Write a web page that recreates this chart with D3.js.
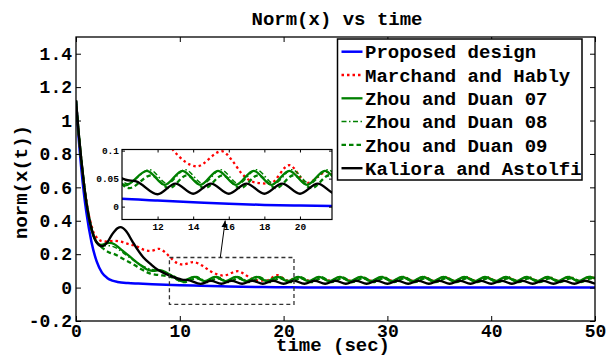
<!DOCTYPE html>
<html>
<head>
    <meta charset="utf-8">
    <title>Norm(x) vs time</title>
    <script src="https://d3js.org/d3.v7.min.js"></script>
    <style>
        body {
            margin: 0;
            background-color: #fff;
        }
        svg {
            display: block;
            font-family: "Liberation Mono", "Courier New", monospace;
            font-weight: bold;
        }
        .axis path {
            stroke: none;
        }
        .axis line {
            stroke: #000;
            stroke-width: 1;
        }
        .axis text {
            fill: #000;
            font-family: "Liberation Mono", "Courier New", monospace;
            font-weight: bold;
        }
    </style>
</head>
<body>
    <svg id="chart" width="607" height="356"></svg>
    <script>
        // values: [time, norm]
        const proposed = [[0,1.12],[0.25,0.9],[0.5,0.72],[0.75,0.57],[1,0.45],[1.5,0.27],[2,0.155],[2.5,0.09],
            [3,0.058],[3.5,0.042],[4,0.034],[5,0.027],[6,0.024],[8,0.019],[10,0.014],[12,0.011],[14,0.008],
            [16,0.005],[18,0.003],[20,0.002],[22,0.001],[26,0],[50,0]];

        const marchand = [[0,1.12],[0.25,0.93],[0.5,0.77],[0.75,0.63],[1,0.52],[1.25,0.43],[1.5,0.37],[1.75,0.32],
            [2,0.3],[2.4,0.28],[3,0.275],[3.6,0.28],[4.3,0.275],[5,0.262],[5.9,0.245],[6.6,0.225],[7.2,0.22],
            [8,0.232],[8.6,0.21],[9.1,0.18],[9.7,0.148],[10.3,0.138],[11.3,0.153],[12.2,0.13],[12.9,0.1],
            [14.2,0.072],[15.6,0.099],[16.2,0.082],[16.7,0.06],[17.5,0.043],[18.3,0.041],[19.4,0.074],
            [20.4,0.042],[21.5,0.062],[22.5,0.041],[23.5,0.062],[24.5,0.041],[25.5,0.062],[26.5,0.041],
            [27.5,0.062],[28.5,0.041],[29.5,0.062],[30.5,0.041],[31.5,0.062],[32.5,0.041],[33.5,0.062],
            [34.5,0.041],[35.5,0.062],[36.5,0.041],[37.5,0.062],[38.5,0.041],[39.5,0.062],[40.5,0.041],
            [41.5,0.062],[42.5,0.041],[43.5,0.062],[44.5,0.041],[45.5,0.062],[46.5,0.041],[47.5,0.062],
            [48.5,0.041],[49.5,0.062],[50,0.055]];

        const zhou07 = [[0,1.12],[0.25,0.93],[0.5,0.77],[0.75,0.63],[1,0.51],[1.25,0.42],[1.5,0.35],[1.75,0.3],
            [2,0.27],[2.4,0.255],[3.2,0.268],[3.7,0.26],[4.3,0.23],[5.2,0.185],[6.2,0.135],[7.1,0.103],
            [7.6,0.1],[8.1,0.105],[8.7,0.09],[9.3,0.068],[10.2,0.038],[11.4,0.064],[12.4,0.039],[13.4,0.064],
            [14.4,0.039],[15.4,0.064],[16.4,0.039],[17.4,0.064],[18.4,0.039],[19.4,0.064],[20.4,0.039],
            [21.4,0.064],[22.4,0.039],[23.4,0.064],[24.4,0.039],[25.4,0.064],[26.4,0.039],[27.4,0.064],
            [28.4,0.039],[29.4,0.064],[30.4,0.039],[31.4,0.064],[32.4,0.039],[33.4,0.064],[34.4,0.039],
            [35.4,0.064],[36.4,0.039],[37.4,0.064],[38.4,0.039],[39.4,0.064],[40.4,0.039],[41.4,0.064],
            [42.4,0.039],[43.4,0.064],[44.4,0.039],[45.4,0.064],[46.4,0.039],[47.4,0.064],[48.4,0.039],
            [49.4,0.064],[50,0.055]];

        const zhou08 = [[0,1.12],[0.25,0.93],[0.5,0.77],[0.75,0.63],[1,0.51],[1.25,0.42],[1.5,0.35],[1.75,0.3],
            [2,0.27],[2.5,0.25],[3.2,0.25],[3.8,0.24],[4.6,0.205],[5.5,0.165],[6.4,0.13],[7.2,0.11],[8.1,0.1],
            [8.8,0.085],[9.4,0.07],[10.3,0.041],[11.55,0.066],[12.55,0.041],[13.55,0.066],[14.55,0.041],
            [15.55,0.066],[16.55,0.041],[17.55,0.066],[18.55,0.041],[19.55,0.066],[20.55,0.041],[21.55,0.066],
            [22.55,0.041],[23.55,0.066],[24.55,0.041],[25.55,0.066],[26.55,0.041],[27.55,0.066],[28.55,0.041],
            [29.55,0.066],[30.55,0.041],[31.55,0.066],[32.55,0.041],[33.55,0.066],[34.55,0.041],[35.55,0.066],
            [36.55,0.041],[37.55,0.066],[38.55,0.041],[39.55,0.066],[40.55,0.041],[41.55,0.066],[42.55,0.041],
            [43.55,0.066],[44.55,0.041],[45.55,0.066],[46.55,0.041],[47.55,0.066],[48.55,0.041],[49.55,0.066],
            [50,0.06]];

        const zhou09 = [[0,1.12],[0.25,0.93],[0.5,0.77],[0.75,0.63],[1,0.51],[1.25,0.42],[1.5,0.35],[1.75,0.3],
            [2,0.27],[2.6,0.235],[3.2,0.21],[3.7,0.2],[4.6,0.17],[5.5,0.14],[6.3,0.11],[7.1,0.085],[8,0.075],
            [8.7,0.07],[9.4,0.058],[10.4,0.033],[11.65,0.056],[12.65,0.033],[13.65,0.056],[14.65,0.033],
            [15.65,0.056],[16.65,0.033],[17.65,0.056],[18.65,0.033],[19.65,0.056],[20.65,0.033],[21.65,0.056],
            [22.65,0.033],[23.65,0.056],[24.65,0.033],[25.65,0.056],[26.65,0.033],[27.65,0.056],[28.65,0.033],
            [29.65,0.056],[30.65,0.033],[31.65,0.056],[32.65,0.033],[33.65,0.056],[34.65,0.033],[35.65,0.056],
            [36.65,0.033],[37.65,0.056],[38.65,0.033],[39.65,0.056],[40.65,0.033],[41.65,0.056],[42.65,0.033],
            [43.65,0.056],[44.65,0.033],[45.65,0.056],[46.65,0.033],[47.65,0.056],[48.65,0.033],[49.65,0.056],
            [50,0.05]];

        const kaliora = [[0,1.12],[0.25,0.93],[0.5,0.77],[0.75,0.63],[1,0.51],[1.25,0.42],[1.5,0.35],[1.75,0.3],
            [2,0.27],[2.5,0.248],[3,0.27],[3.5,0.32],[4,0.355],[4.3,0.362],[4.8,0.34],[5.4,0.28],[5.9,0.23],
            [6.5,0.18],[7.2,0.14],[7.8,0.11],[8.4,0.09],[9.1,0.07],[9.7,0.056],[10.2,0.048],[10.8,0.045],
            [12,0.022],[13,0.041],[14,0.023],[15,0.041],[16,0.023],[17,0.041],[18,0.023],[19,0.041],[20,0.023],
            [21,0.041],[22,0.023],[23,0.041],[24,0.023],[25,0.041],[26,0.023],[27,0.041],[28,0.023],[29,0.041],
            [30,0.023],[31,0.041],[32,0.023],[33,0.041],[34,0.023],[35,0.041],[36,0.023],[37,0.041],[38,0.023],
            [39,0.041],[40,0.023],[41,0.041],[42,0.023],[43,0.041],[44,0.023],[45,0.041],[46,0.023],[47,0.041],
            [48,0.023],[49,0.041],[50,0.023]];

        const seriesNames = ['Proposed design', 'Marchand and Hably', 'Zhou and Duan 07',
            'Zhou and Duan 08', 'Zhou and Duan 09', 'Kaliora and Astolfi'];
        const xTicks = [0, 10, 20, 30, 40, 50];
        const yTicks = [-0.2, 0, 0.2, 0.4, 0.6, 0.8, 1, 1.2, 1.4];
        const insetXTicks = [12, 14, 16, 18, 20];
        const insetYTicks = [0, 0.05, 0.1];
        const zoomBox = { t0: 9, t1: 21, v0: -0.1, v1: 0.18 };

        const seriesData = [proposed, marchand, zhou07, zhou08, zhou09, kaliora];
        const styles = [
            { color: '#0000ff', width: 2.5, dash: null },
            { color: '#ff0000', width: 2.3, dash: '2.5,3' },
            { color: '#008000', width: 2.3, dash: null },
            { color: '#008000', width: 1.5, dash: '5,2.5,1.5,2.5' },
            { color: '#008000', width: 2.3, dash: '4.5,3' },
            { color: '#000000', width: 2.4, dash: null }
        ];

        // plain hyphen for negatives, like the original figure
        const plainFormat = d => String(d);

        function drawChart() {
            const svg = d3.select('#chart');
            const plot = { left: 76, right: 595, top: 37, bottom: 321 };
            const inset = { left: 122, right: 332, top: 149.5, bottom: 219.5 };

            const x = d3.scaleLinear().domain([0, 50]).range([plot.left, plot.right]);
            const y = d3.scaleLinear().domain([-0.2, 1.5]).range([plot.bottom, plot.top]);
            const ix = d3.scaleLinear().domain([10, 21.8]).range([inset.left, inset.right]);
            const iy = d3.scaleLinear().domain([-0.023, 0.102]).range([inset.bottom, inset.top]);

            const defs = svg.append('defs');
            defs.append('clipPath').attr('id', 'clipMain').append('rect')
                .attr('x', plot.left).attr('y', plot.top)
                .attr('width', plot.right - plot.left).attr('height', plot.bottom - plot.top);
            defs.append('clipPath').attr('id', 'clipInset').append('rect')
                .attr('x', inset.left).attr('y', inset.top)
                .attr('width', inset.right - inset.left).attr('height', inset.bottom - inset.top);
            defs.append('marker').attr('id', 'arrow')
                .attr('viewBox', '0 0 10 10').attr('refX', 10).attr('refY', 5)
                .attr('markerWidth', 7).attr('markerHeight', 7).attr('orient', 'auto')
                .append('path').attr('d', 'M0,1 L10,5 L0,9 Z').attr('fill', '#000');

            // title
            svg.append('text')
                .attr('x', 337).attr('y', 25)
                .attr('text-anchor', 'middle')
                .style('font-size', '19px')
                .text('Norm(x) vs time');

            // main curves
            const line = d3.line()
                .x(d => x(d[0])).y(d => y(d[1]))
                .curve(d3.curveMonotoneX);
            const mainG = svg.append('g').attr('clip-path', 'url(#clipMain)');
            seriesData.forEach((data, i) => {
                mainG.append('path')
                    .datum(data)
                    .attr('d', line)
                    .attr('fill', 'none')
                    .attr('stroke', styles[i].color)
                    .attr('stroke-width', styles[i].width)
                    .attr('stroke-dasharray', styles[i].dash)
                    .attr('stroke-linejoin', 'round');
            });

            // axes, ticks inside on all four sides
            svg.append('g').attr('class', 'axis')
                .attr('transform', `translate(0,${plot.bottom})`)
                .call(d3.axisBottom(x).tickValues(xTicks).tickSize(-5).tickPadding(3).tickFormat(plainFormat))
                .selectAll('text').style('font-size', '18px');
            svg.append('g').attr('class', 'axis')
                .attr('transform', `translate(0,${plot.top})`)
                .call(d3.axisTop(x).tickValues(xTicks).tickSize(-5).tickFormat(''));
            svg.append('g').attr('class', 'axis')
                .attr('transform', `translate(${plot.left},0)`)
                .call(d3.axisLeft(y).tickValues(yTicks).tickSize(-5).tickPadding(4).tickFormat(plainFormat))
                .selectAll('text').style('font-size', '18px');
            svg.append('g').attr('class', 'axis')
                .attr('transform', `translate(${plot.right},0)`)
                .call(d3.axisRight(y).tickValues(yTicks).tickSize(-5).tickFormat(''));

            svg.append('rect')
                .attr('x', plot.left).attr('y', plot.top)
                .attr('width', plot.right - plot.left).attr('height', plot.bottom - plot.top)
                .attr('fill', 'none').attr('stroke', '#000').attr('stroke-width', 1.3);

            // axis labels
            svg.append('text')
                .attr('x', 333).attr('y', 351)
                .attr('text-anchor', 'middle')
                .style('font-size', '19px')
                .text('time (sec)');
            svg.append('text')
                .attr('transform', 'translate(27,182) rotate(-90)')
                .attr('text-anchor', 'middle')
                .style('font-size', '19px')
                .text('norm(x(t))');

            // dashed zoom region
            svg.append('rect')
                .attr('x', x(zoomBox.t0)).attr('y', y(zoomBox.v1))
                .attr('width', x(zoomBox.t1) - x(zoomBox.t0))
                .attr('height', y(zoomBox.v0) - y(zoomBox.v1))
                .attr('fill', 'none').attr('stroke', '#333')
                .attr('stroke-width', 1.3).attr('stroke-dasharray', '4,3');

            // inset
            svg.append('rect')
                .attr('x', inset.left).attr('y', inset.top)
                .attr('width', inset.right - inset.left).attr('height', inset.bottom - inset.top)
                .attr('fill', '#fff');
            const iline = d3.line()
                .x(d => ix(d[0])).y(d => iy(d[1]))
                .curve(d3.curveMonotoneX);
            const insetG = svg.append('g').attr('clip-path', 'url(#clipInset)');
            seriesData.forEach((data, i) => {
                insetG.append('path')
                    .datum(data)
                    .attr('d', iline)
                    .attr('fill', 'none')
                    .attr('stroke', styles[i].color)
                    .attr('stroke-width', styles[i].width)
                    .attr('stroke-dasharray', styles[i].dash)
                    .attr('stroke-linejoin', 'round');
            });
            svg.append('g').attr('class', 'axis')
                .attr('transform', `translate(0,${inset.bottom})`)
                .call(d3.axisBottom(ix).tickValues(insetXTicks).tickSize(-3).tickPadding(4).tickFormat(plainFormat))
                .selectAll('text').style('font-size', '9.5px');
            svg.append('g').attr('class', 'axis')
                .attr('transform', `translate(0,${inset.top})`)
                .call(d3.axisTop(ix).tickValues(insetXTicks).tickSize(-3).tickFormat(''));
            svg.append('g').attr('class', 'axis')
                .attr('transform', `translate(${inset.left},0)`)
                .call(d3.axisLeft(iy).tickValues(insetYTicks).tickSize(-3).tickPadding(3).tickFormat(plainFormat))
                .selectAll('text').style('font-size', '9.5px');
            svg.append('g').attr('class', 'axis')
                .attr('transform', `translate(${inset.right},0)`)
                .call(d3.axisRight(iy).tickValues(insetYTicks).tickSize(-3).tickFormat(''));
            svg.append('rect')
                .attr('x', inset.left).attr('y', inset.top)
                .attr('width', inset.right - inset.left).attr('height', inset.bottom - inset.top)
                .attr('fill', 'none').attr('stroke', '#000').attr('stroke-width', 1.2);

            // arrow from zoom box to inset
            svg.append('line')
                .attr('x1', x(13.9)).attr('y1', y(zoomBox.v1))
                .attr('x2', ix(15.8)).attr('y2', inset.bottom + 1)
                .attr('stroke', '#000').attr('stroke-width', 1)
                .attr('marker-end', 'url(#arrow)');

            // legend
            const lg = { left: 337.5, top: 39, width: 244.5, height: 141, rowH: 23.3 };
            svg.append('rect')
                .attr('x', lg.left).attr('y', lg.top)
                .attr('width', lg.width).attr('height', lg.height)
                .attr('fill', '#fff').attr('stroke', '#000').attr('stroke-width', 1.5);
            seriesNames.forEach((name, i) => {
                const cy = lg.top + 12.7 + i * lg.rowH;
                svg.append('line')
                    .attr('x1', lg.left + 4).attr('x2', lg.left + 25)
                    .attr('y1', cy).attr('y2', cy)
                    .attr('stroke', styles[i].color)
                    .attr('stroke-width', styles[i].width)
                    .attr('stroke-dasharray', styles[i].dash);
                svg.append('text')
                    .attr('x', lg.left + 27.5).attr('y', cy)
                    .attr('dy', '0.35em')
                    .style('font-size', '19px')
                    .text(name);
            });
        }

        drawChart();
    </script>
</body>
</html>
